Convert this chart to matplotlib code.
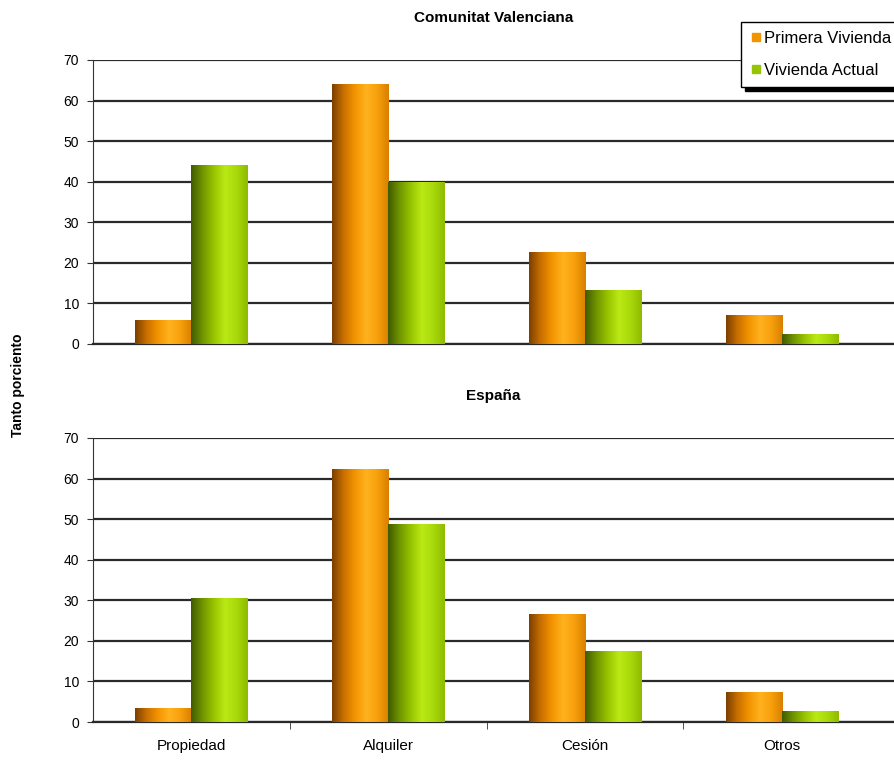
import matplotlib.pyplot as plt
import numpy as np
from matplotlib.colors import LinearSegmentedColormap

plt.rcParams["font.family"] = ["Liberation Sans", "DejaVu Sans"]

categories = ["Propiedad", "Alquiler", "Cesión", "Otros"]
series_names = ["Primera Vivienda", "Vivienda Actual"]
valencia_primera = [5.9, 64.0, 22.7, 7.1]
valencia_actual = [44.1, 40.0, 13.3, 2.5]
espana_primera = [3.4, 62.3, 26.6, 7.4]
espana_actual = [30.5, 48.8, 17.5, 2.7]

# cylinder-like shading for each series
orange_cmap = LinearSegmentedColormap.from_list(
    "orange_cyl", ["#7a3f00", "#c86e00", "#f29400", "#ffb21e", "#f7a00c", "#d97f00"])
green_cmap = LinearSegmentedColormap.from_list(
    "green_cyl", ["#3f5a00", "#6f9400", "#97c400", "#bbe916", "#a8d90a", "#8fba00"])
grad = np.linspace(0, 1, 256).reshape(1, -1)

bar_w = 0.285


def shaded_bars(ax, x, vals, cmap, solid):
    bars = ax.bar(x, vals, width=bar_w, color=solid, edgecolor="none", zorder=3)
    for p in bars:
        x0, y0 = p.get_x(), p.get_y()
        im = ax.imshow(grad, cmap=cmap, aspect="auto", zorder=4,
                       extent=[x0, x0 + p.get_width(), y0, y0 + p.get_height()])
        im.set_clip_path(p)
    return bars


def draw_panel(ax, primera, actual, title):
    x = np.arange(len(categories))
    shaded_bars(ax, x - bar_w / 2, primera, orange_cmap, "#f29400")
    shaded_bars(ax, x + bar_w / 2, actual, green_cmap, "#97c400")
    ax.set_xlim(-0.5, 3.57)
    ax.set_ylim(0, 70)
    ax.set_yticks(range(0, 71, 10))
    ax.yaxis.grid(True, color="#2a2a2a", linewidth=1.6, zorder=1)
    ax.set_axisbelow(True)
    for s in ["top", "right"]:
        ax.spines[s].set_visible(False)
    ax.spines["left"].set_color("#333333")
    ax.spines["bottom"].set_color("#2a2a2a")
    ax.spines["bottom"].set_linewidth(1.6)
    ax.tick_params(axis="y", labelsize=10, length=4, color="#333333", pad=6)
    ax.set_title(title, fontsize=11, fontweight="bold", pad=27)


fig = plt.figure(figsize=(8.94, 7.62), dpi=100)
ax1 = fig.add_axes([93 / 894, 1 - 344 / 762, 801 / 894, 284 / 762])
ax2 = fig.add_axes([93 / 894, 1 - 722 / 762, 801 / 894, 284 / 762])

draw_panel(ax1, valencia_primera, valencia_actual, "Comunitat Valenciana")
draw_panel(ax2, espana_primera, espana_actual, "España")

ax1.set_xticks([])
ax2.set_xticks(np.arange(len(categories)))
ax2.set_xticklabels(categories, fontsize=11)
ax2.tick_params(axis="x", length=0, pad=12)
ax2.set_xticks(np.arange(0.5, 3.5, 1), minor=True)
ax2.tick_params(axis="x", which="minor", length=5, color="#333333")

fig.text(18 / 894, 1 - 385 / 762, "Tanto porciento", rotation=90,
         fontsize=10, fontweight="bold", ha="center", va="center")

handles = [plt.Line2D([], [], marker="s", linestyle="none", markersize=6,
                      color=c) for c in ["#f29400", "#97c400"]]
leg = fig.legend(handles, series_names, loc="upper left",
                 bbox_to_anchor=(741 / 894, 1 - 22 / 762), fontsize=12,
                 frameon=True, fancybox=False, handletextpad=0.1,
                 handlelength=0.7, borderpad=0.55, labelspacing=1.0,
                 borderaxespad=0,
                 shadow={"color": "black", "alpha": 1, "ox": 3, "oy": -3})
leg.get_frame().set_edgecolor("black")
leg.get_frame().set_linewidth(1.0)

fig.savefig("out.png", dpi=100)
